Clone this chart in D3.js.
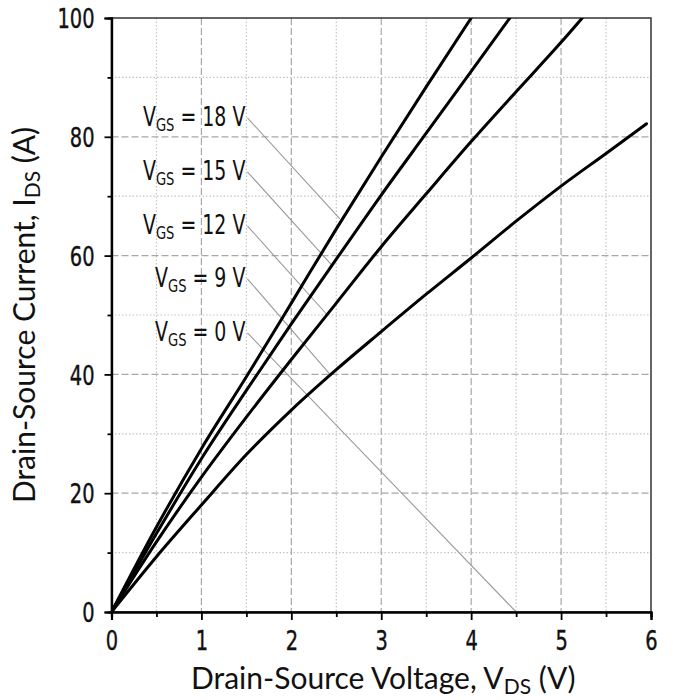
<!DOCTYPE html>
<html><head><meta charset="utf-8">
<script src="https://cdn.jsdelivr.net/npm/d3@7"></script>
<style>
body{margin:0;background:#fff;}
svg{display:block;}
.tick-label{font-family:"Liberation Sans Narrow","DejaVu Sans Condensed","Roboto",sans-serif;font-size:27px;fill:#111;stroke:#111;stroke-width:0.4px;}
.ann{font-family:"Liberation Sans Narrow","DejaVu Sans Condensed","Roboto",sans-serif;font-size:26px;fill:#111;}
.title{font-family:Lato,"Open Sans",sans-serif;font-size:30px;fill:#111;}
</style></head>
<body><svg id="c" width="673" height="700"></svg>
<script>
// Data
const xTicks = [0,1,2,3,4,5,6];
const yTicks = [0,20,40,60,80,100];
const xMinor = [0.5,1.5,2.5,3.5,4.5,5.5];
const yMinor = [10,30,50,70,90];
const seriesNames = ["18 V","15 V","12 V","0 V"];
const curve18 = [[0,0],[0.5,14.3],[1,27.5],[1.5,39.6],[2,52],[2.5,64.5],[3,76.6],[3.5,88.4],[4,100]];
const curve15 = [[0,0],[0.5,13.2],[1,25.8],[1.5,37.3],[2,48.5],[2.5,59.4],[3,70.2],[3.5,80.6],[4,91],[4.43,100]];
const curve12 = [[0,0],[0.5,11.8],[1,22.7],[1.5,32.8],[2,42.5],[2.5,52],[3,61.5],[3.5,70.4],[4,79.2],[4.5,87.6],[5,95.9],[5.235,100]];
const curve0 = [[0,0],[0.5,9.3],[1,18],[1.5,26.5],[2,34],[2.5,40.8],[3,47.2],[3.5,53.5],[4,59.6],[4.5,65.8],[5,71.7],[5.5,77.2],[5.95,82.2]];
const labelTexts = ["18 V","15 V","12 V","9 V","0 V"];
const labelStartV = [1.5,1.5,1.5,1.5,1.5];
const labelStartI = [83.2,74.1,65.0,56.1,47.0];
const leaderEndV = [2.54,2.45,2.40,2.43,4.5];
const leaderEndI = [66.2,58.4,50.0,40.0,0];

const svg = d3.select("#c");
const L=111.5, R=651, T=18, B=612;
const x = d3.scaleLinear().domain([0,6]).range([L,R]);
const y = d3.scaleLinear().domain([0,100]).range([B,T]);

// minor grid
const g = svg.append("g");
g.selectAll(".vmin").data(xMinor).join("line")
 .attr("x1",d=>x(d)).attr("x2",d=>x(d)).attr("y1",T).attr("y2",B)
 .attr("stroke","#c4c4c4").attr("stroke-width",1.2).attr("stroke-dasharray","1.5,2");
g.selectAll(".hmin").data(yMinor).join("line")
 .attr("y1",d=>y(d)).attr("y2",d=>y(d)).attr("x1",L).attr("x2",R)
 .attr("stroke","#c4c4c4").attr("stroke-width",1.2).attr("stroke-dasharray","1.5,2");
// major grid
g.selectAll(".vmaj").data(xTicks.slice(1,-1)).join("line")
 .attr("x1",d=>x(d)).attr("x2",d=>x(d)).attr("y1",T).attr("y2",B)
 .attr("stroke","#a8a8a8").attr("stroke-width",1.2).attr("stroke-dasharray","7,3");
g.selectAll(".hmaj").data(yTicks.slice(1,-1)).join("line")
 .attr("y1",d=>y(d)).attr("y2",d=>y(d)).attr("x1",L).attr("x2",R)
 .attr("stroke","#a8a8a8").attr("stroke-width",1.2).attr("stroke-dasharray","7,3");

// frame (top/right)
svg.append("rect").attr("x",L).attr("y",T).attr("width",R-L).attr("height",B-T)
 .attr("fill","none").attr("stroke","#333").attr("stroke-width",1.5);

// leader lines
svg.append("g").selectAll("line").data(labelTexts).join("line")
 .attr("x1",(d,i)=>x(labelStartV[i])+1).attr("y1",(d,i)=>y(labelStartI[i]))
 .attr("x2",(d,i)=>x(leaderEndV[i])).attr("y2",(d,i)=>y(leaderEndI[i]))
 .attr("stroke","#999").attr("stroke-width",1.1);

// curves
svg.append("clipPath").attr("id","clip").append("rect").attr("x",L).attr("y",T).attr("width",R-L).attr("height",B-T);
const line = d3.line().x(d=>x(d[0])).y(d=>y(d[1])).curve(d3.curveMonotoneX);
svg.append("g").attr("clip-path","url(#clip)").selectAll("path").data([curve18,curve15,curve12,curve0]).join("path")
 .attr("d",line).attr("fill","none").attr("stroke","#000").attr("stroke-width",3).attr("stroke-linecap","round");

// axes
const xAxis = svg.append("g").attr("transform",`translate(0,${B})`);
xAxis.call(d3.axisBottom(x).tickValues(xTicks).tickSize(8).tickFormat(d3.format("d")));
const xAxisMinor = svg.append("g").attr("transform",`translate(0,${B})`);
xAxisMinor.call(d3.axisBottom(x).tickValues(xMinor).tickSize(5).tickFormat(""));
const yAxis = svg.append("g").attr("transform",`translate(${L},0)`);
yAxis.call(d3.axisLeft(y).tickValues(yTicks).tickSize(7).tickFormat(d3.format("d")));
const yAxisMinor = svg.append("g").attr("transform",`translate(${L},0)`);
yAxisMinor.call(d3.axisLeft(y).tickValues(yMinor).tickSize(4).tickFormat(""));
[xAxis,xAxisMinor,yAxis,yAxisMinor].forEach(a=>{
  a.select(".domain").attr("stroke","#000").attr("stroke-width",2.2);
  a.selectAll(".tick line").attr("stroke","#000").attr("stroke-width",1.8);
  a.selectAll(".tick text").attr("class","tick-label").attr("font-family",null).attr("font-size",null);
});
xAxis.selectAll(".tick text").attr("dy",null).attr("y",0).attr("transform","translate(0,38) scale(0.8,1)");
yAxis.selectAll(".tick text").attr("x",0).attr("dy","0.36em").attr("transform","translate(-17,0) scale(0.8,1)");

// annotation labels
const ann = svg.append("g").selectAll("text").data(labelTexts).join("text")
 .attr("class","ann").attr("text-anchor","end")
 .attr("transform",(d,i)=>`translate(${x(labelStartV[i])-1},${y(labelStartI[i])+8}) scale(0.81,1)`);
ann.append("tspan").text("V");
ann.append("tspan").attr("font-size","18px").attr("dy",5).text("GS");
ann.append("tspan").attr("dy",-5).text(d=>" = "+d);

// axis titles
const xt = svg.append("text").attr("class","title").attr("text-anchor","middle")
 .attr("x",(L+R)/2+2).attr("y",689);
xt.append("tspan").text("Drain-Source Voltage, V");
xt.append("tspan").attr("font-size","21px").attr("dy",5).text("DS");
xt.append("tspan").attr("dy",-5).text(" (V)");
const yt = svg.append("text").attr("class","title").attr("text-anchor","middle")
 .attr("transform",`translate(35,${(T+B)/2}) rotate(-90)`);
yt.append("tspan").text("Drain-Source Current, I");
yt.append("tspan").attr("font-size","21px").attr("dy",5).text("DS");
yt.append("tspan").attr("dy",-5).text(" (A)");
</script></body></html>
